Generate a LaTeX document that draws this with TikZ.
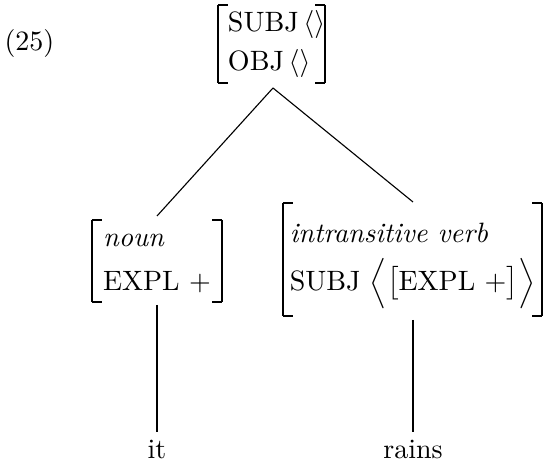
\documentclass[tikz,border=0pt]{standalone}
\usepackage{amsmath}
\tikzset{avm/.style={inner sep=0pt, outer sep=0pt, anchor=base},
         word/.style={inner sep=0pt, anchor=base},
         branch/.style={line width=0.4pt},
         stem/.style={line width=0.6pt},
         serif/.style={line width=0.4pt}}
% left bracket: x, top y, bottom y (picture pixels)
\newcommand{\lbrk}[3]{%
  \draw[stem] (#1,#2) -- (#1,#3);
  \draw[serif] (#1,#2) -- ({#1+10},#2) (#1,#3) -- ({#1+10},#3);}
\newcommand{\rbrk}[3]{%
  \draw[stem] (#1,#2) -- (#1,#3);
  \draw[serif] (#1,#2) -- ({#1-10},#2) (#1,#3) -- ({#1-10},#3);}
\begin{document}
\begin{tikzpicture}[x=0.357pt,y=-0.357pt]
\useasboundingbox (0,0) rectangle (547,465);
\node[word, anchor=base west] (ex) at (4,51) {(25)};
% top AVM
\node[avm, anchor=base west] (top) at (228,32)
  {$\begin{array}[t]{@{}l@{}}\mathrm{SUBJ}\,\langle\rangle\\[1.9pt] \mathrm{OBJ}\,\langle\rangle\end{array}$};
\lbrk{218}{5}{83}
\rbrk{325}{5}{83}
% left AVM
\node[avm] (left) at (157,247)
  {$\begin{array}[t]{@{}l@{}}\textit{noun}\\[3.4pt] \mathrm{EXPL}\ +\end{array}$};
\lbrk{92}{220}{302}
\rbrk{222}{220}{302}
% right AVM
\node[avm] (right) at (412.5,243)
  {$\begin{array}[t]{@{}l@{}}\textit{intransitive verb}\\[1.8pt] \mathrm{SUBJ}\ \Bigl\langle\bigl[\mathrm{EXPL}\ +\bigr]\Bigr\rangle\end{array}$};
\lbrk{283}{203}{316}
\rbrk{542}{203}{316}
% words
\node[word] (it) at (157,459) {it};
\node[word] (rains) at (413,459) {rains};
% branches
\coordinate (apex) at (273,88);
\draw[branch] (apex) -- (157,216);
\draw[branch] (apex) -- (413,202);
\draw[branch] (157,305) -- (157,432);
\draw[branch] (413,320) -- (413,432);
\end{tikzpicture}
\end{document}
